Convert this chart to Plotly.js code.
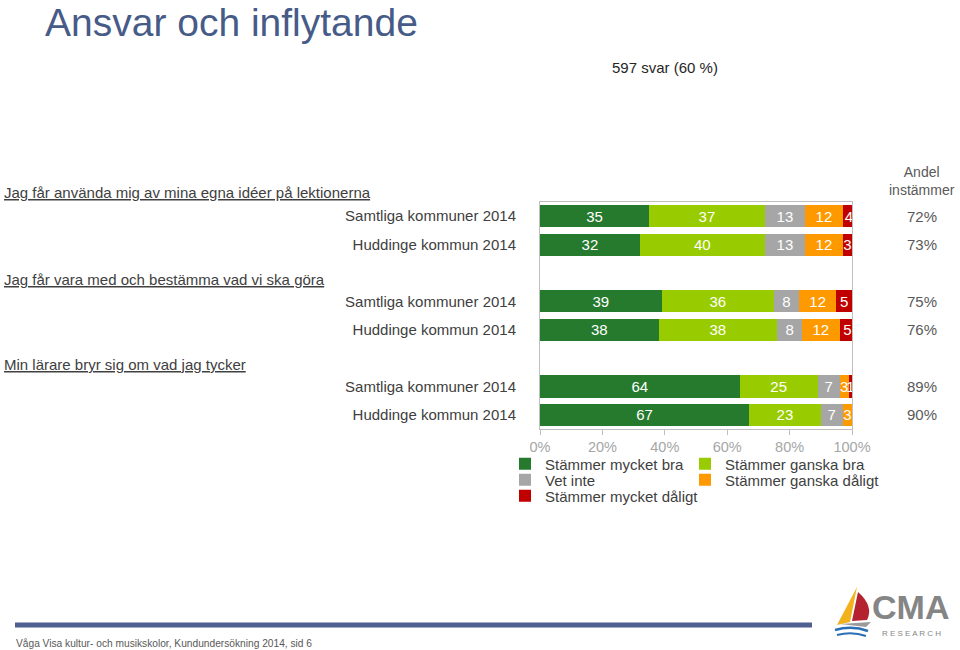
<!DOCTYPE html>
<html><head><meta charset="utf-8">
<script src="https://cdn.plot.ly/plotly-3.0.1.min.js"></script>
<style>html,body{margin:0;padding:0;background:#fff}#chart{width:960px;height:650px}</style>
</head><body><div id="chart"></div>
<script>
// ---- data ----
const questions = [
  "Jag får använda mig av mina egna idéer på lektionerna",
  "Jag får vara med och bestämma vad vi ska göra",
  "Min lärare bryr sig om vad jag tycker"
];
const rowLabels = [
  "Samtliga kommuner 2014", "Huddinge kommun 2014",
  "Samtliga kommuner 2014", "Huddinge kommun 2014",
  "Samtliga kommuner 2014", "Huddinge kommun 2014"
];
const rowPositions = [0, 1, 3, 4, 6, 7];
const seriesNames = ["Stämmer mycket bra", "Stämmer ganska bra", "Vet inte", "Stämmer ganska dåligt", "Stämmer mycket dåligt"];
const mycketBra    = [35, 32, 39, 38, 64, 67];
const ganskaBra    = [37, 40, 36, 38, 25, 23];
const vetInte      = [13, 13, 8, 8, 7, 7];
const ganskaDaligt = [12, 12, 12, 12, 3, 3];
const mycketDaligt = [4, 3, 5, 5, 1, 0];
const andelInstammer = [72, 73, 75, 76, 89, 90];
const xTicks = [0, 20, 40, 60, 80, 100];

// ---- style / layout positions ----
const seriesColors = ["#267A2E", "#99CC00", "#A6A6A6", "#FF9900", "#C00000"];
const legendIds = ["legend", "legend", "legend2", "legend2", "legend3"];
const legendWidths = [135, 180, 135, 180, 180];
const questionYpx = [193, 279, 364];
const FONT = "Liberation Sans, Arial, sans-serif";
const W = 960, H = 650, ML = 500, MR = 10, MT = 202, MB = 221;
const plotW = W - ML - MR, plotH = H - MT - MB;
const pxX = x => (x - ML) / plotW;
const pxY = y => (H - MB - y) / plotH;

const seriesValues = [mycketBra, ganskaBra, vetInte, ganskaDaligt, mycketDaligt];
const traces = seriesValues.map((vals, i) => ({
  type: "bar",
  orientation: "h",
  name: seriesNames[i],
  legend: legendIds[i],
  legendwidth: legendWidths[i],
  x: vals,
  y: rowPositions,
  width: 0.78,
  marker: {color: seriesColors[i], line: {width: 0}},
  text: vals.map(v => String(v)),
  textposition: "inside",
  insidetextanchor: "middle",
  constraintext: "none",
  textangle: 0,
  textfont: {family: FONT, size: 15, color: "#FFFFFF"},
  hoverinfo: "x+name"
}));

const annotations = [];
annotations.push({xref: "paper", yref: "paper", x: pxX(665), y: pxY(67), text: "597 svar (60 %)",
  showarrow: false, font: {family: FONT, size: 15, color: "#262626"}, xanchor: "center", yanchor: "middle"});
annotations.push({xref: "paper", yref: "paper", x: pxX(922), y: pxY(181), text: "Andel<br>instämmer",
  showarrow: false, font: {family: FONT, size: 14, color: "#595959"}, xanchor: "center", yanchor: "middle"});
andelInstammer.forEach((v, i) => annotations.push({xref: "paper", yref: "y", x: pxX(922), y: rowPositions[i],
  text: v + "%", showarrow: false, font: {family: FONT, size: 15, color: "#595959"}, xanchor: "center", yanchor: "middle"}));
questions.forEach((q, i) => annotations.push({xref: "paper", yref: "paper", x: pxX(2), y: pxY(questionYpx[i]),
  text: "<u>" + q + "</u>", showarrow: false, font: {family: FONT, size: 15, color: "#404040"}, xanchor: "left", yanchor: "middle"}));
annotations.push({xref: "paper", yref: "paper", x: pxX(14), y: pxY(643), text: "Våga Visa kultur- och musikskolor, Kundundersökning 2014, sid 6",
  showarrow: false, font: {family: FONT, size: 10.2, color: "#595959"}, xanchor: "left", yanchor: "middle"});
annotations.push({xref: "paper", yref: "paper", x: pxX(910), y: pxY(607), text: "<b>CMA</b>",
  showarrow: false, font: {family: FONT, size: 34, color: "#858585"}, xanchor: "center", yanchor: "middle"});
annotations.push({xref: "paper", yref: "paper", x: pxX(911), y: pxY(633), text: "R E S E A R C H",
  showarrow: false, font: {family: FONT, size: 8, color: "#858585"}, xanchor: "center", yanchor: "middle"});

function pathPx(cmds) {
  return cmds.map(c => typeof c === "string" ? c : (pxX(c[0]).toFixed(5) + "," + pxY(c[1]).toFixed(5))).join(" ");
}
const shapes = [
  {type: "line", xref: "paper", yref: "paper", x0: pxX(15), x1: pxX(812), y0: pxY(625), y1: pxY(625),
   line: {color: "#4F5F8F", width: 5}},
  {type: "path", xref: "paper", yref: "paper", path: pathPx(["M", [837, 625], "L", [857, 587], "L", [850, 622], "Z"]),
   fillcolor: "#F2B21B", line: {width: 0}},
  {type: "path", xref: "paper", yref: "paper", path: pathPx(["M", [852, 621], "L", [858, 592], "Q", [874, 606], [867, 620], "Z"]),
   fillcolor: "#B3222E", line: {width: 0}},
  {type: "path", xref: "paper", yref: "paper", path: pathPx(["M", [840, 624], "L", [871, 622], "L", [866, 627], "Z"]),
   fillcolor: "#9A9A9A", line: {width: 0}},
  {type: "path", xref: "paper", yref: "paper", path: pathPx(["M", [835, 630], "Q", [852, 625], [868, 631]]),
   line: {color: "#2A6FB5", width: 2.5}},
  {type: "path", xref: "paper", yref: "paper", path: pathPx(["M", [837, 635], "Q", [852, 631], [866, 636]]),
   line: {color: "#2A6FB5", width: 2}}
];

function legendRow(ypx) {
  return {orientation: "h", x: pxX(505), xanchor: "left", y: pxY(ypx), yanchor: "middle",
    entrywidth: 135, entrywidthmode: "pixels", traceorder: "normal",
    font: {family: FONT, size: 15, color: "#404040"}, bgcolor: "rgba(0,0,0,0)"};
}

const layout = {
  width: W, height: H,
  margin: {l: ML, r: MR, t: MT, b: MB, pad: 0},
  paper_bgcolor: "#FFFFFF", plot_bgcolor: "#FFFFFF",
  font: {family: FONT, color: "#404040"},
  title: {text: "Ansvar och inflytande", font: {family: FONT, size: 39, color: "#475B88"},
    xref: "container", yref: "container", x: 45 / W, xanchor: "left", y: 1 - 22 / H, yanchor: "middle"},
  barmode: "stack",
  showlegend: true,
  legend: legendRow(464),
  legend2: legendRow(480),
  legend3: legendRow(496),
  xaxis: {domain: [pxX(540), pxX(852)], range: [0, 100], tickvals: xTicks, ticktext: xTicks.map(t => t + "%"),
    showline: true, mirror: true, linecolor: "#BFBFBF", linewidth: 1,
    ticks: "outside", ticklen: 5, tickcolor: "#BFBFBF",
    tickfont: {family: FONT, size: 14.5, color: "#A6A6A6"}, showgrid: false, zeroline: false, fixedrange: true},
  yaxis: {range: [7.5, -0.5], tickvals: rowPositions, ticktext: rowLabels,
    showline: true, mirror: true, linecolor: "#BFBFBF", linewidth: 1, ticks: "",
    ticklabelstandoff: 20,
    tickfont: {family: FONT, size: 15, color: "#404040"}, showgrid: false, zeroline: false, fixedrange: true},
  annotations: annotations,
  shapes: shapes
};

Plotly.newPlot("chart", traces, layout, {displayModeBar: false, staticPlot: true});
</script>
</body></html>
